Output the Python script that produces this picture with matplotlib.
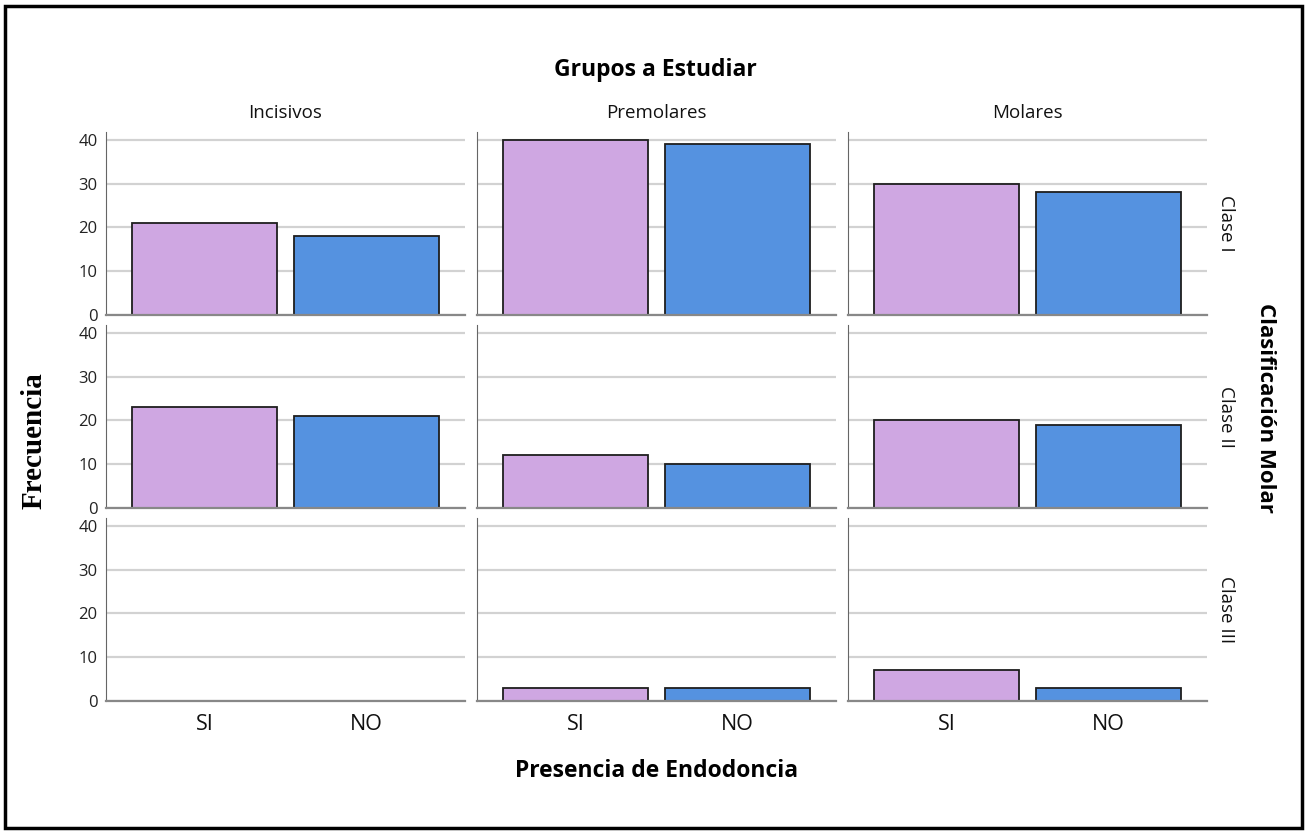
import matplotlib.pyplot as plt
from matplotlib.patches import Rectangle

# data
grupos = ['Incisivos', 'Premolares', 'Molares']
clases = ['Clase I', 'Clase II', 'Clase III']
endodoncia = ['SI', 'NO']
# frecuencia[clase][grupo] = [SI, NO]
frecuencia = [
    [[21, 18], [40, 39], [30, 28]],
    [[23, 21], [12, 10], [20, 19]],
    [[0, 0], [3, 3], [7, 3]],
]
bar_colors = ['#cfa7e2', '#5592e0']

W, H = 1306, 832
fig = plt.figure(figsize=(W / 100, H / 100), dpi=100)
plt.rcParams['font.family'] = ['Open Sans', 'DejaVu Sans']

col_left = [106, 477, 848]
col_w = 359
row_top = [132, 325, 518]
row_h = 183

for r, clase in enumerate(clases):
    for c, grupo in enumerate(grupos):
        ax = fig.add_axes([col_left[c] / W, 1 - (row_top[r] + row_h) / H, col_w / W, row_h / H])
        ax.bar(range(len(endodoncia)), frecuencia[r][c], width=0.9, color=bar_colors,
               edgecolor='#1e1e1e', linewidth=1.3, zorder=3)
        ax.set_xlim(-0.61, 1.61)
        ax.set_ylim(0, 41.8)
        ax.set_yticks([0, 10, 20, 30, 40])
        ax.grid(axis='y', color='#d2d2d2', linewidth=1.6, zorder=0)
        ax.tick_params(length=0)
        ax.tick_params(axis='y', pad=6)
        for s in ['top', 'right']:
            ax.spines[s].set_visible(False)
        ax.spines['left'].set_color('#666666')
        ax.spines['bottom'].set_color('#888888')
        ax.spines['bottom'].set_linewidth(1.6)
        ax.spines['bottom'].set_zorder(4)
        if c == 0:
            ax.set_yticklabels([str(v) for v in [0, 10, 20, 30, 40]], fontsize=12, color='#222222')
        else:
            ax.set_yticklabels([])
        if r == 2:
            ax.set_xticks(range(len(endodoncia)))
            ax.set_xticklabels(endodoncia, fontsize=15.5, color='#111111')
            ax.tick_params(axis='x', pad=9)
        else:
            ax.set_xticks([])
        if r == 0:
            fig.text((col_left[c] + col_w / 2) / W, 1 - 113 / H, grupo, ha='center', va='center',
                     fontsize=13.5, color='#111111')
        if c == 2:
            ax.text(1.052, 0.5, clase, transform=ax.transAxes, rotation=-90,
                    ha='center', va='center', fontsize=13.5, color='#111111')

fig.text(655 / W, 1 - 70 / H, 'Grupos a Estudiar', ha='center', va='center',
         fontsize=16.5, fontweight='bold')
fig.text(657 / W, 1 - 771 / H, 'Presencia de Endodoncia', ha='center', va='center',
         fontsize=16.5, fontweight='bold')
fig.text(1265 / W, 1 - 408 / H, 'Clasificación Molar', ha='center', va='center',
         rotation=-90, fontsize=16, fontweight='bold')
fig.text(34 / W, 1 - 441 / H, 'Frecuencia', ha='center', va='center', rotation=90,
         fontsize=21, fontweight='bold', family=['Liberation Serif', 'DejaVu Serif'])

# outer frame
fig.patches.append(Rectangle((5 / W, 4 / H), 1297 / W, 822 / H, transform=fig.transFigure,
                             fill=False, edgecolor='black', linewidth=2.5))

fig.savefig('out.png', dpi=100)
